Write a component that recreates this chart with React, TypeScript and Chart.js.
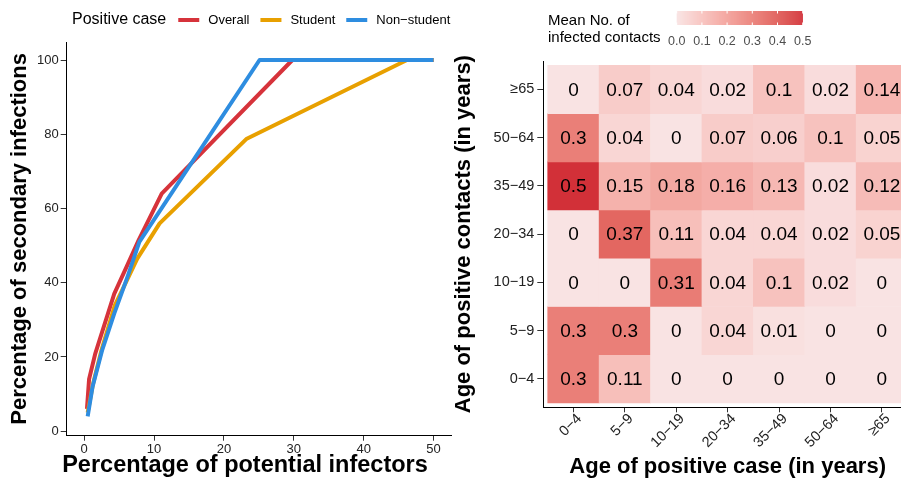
import React, { useEffect, useRef } from 'react';
import { Chart, registerables } from 'chart.js';

Chart.register(...registerables);

const FONT = '"Liberation Sans", Arial, Helvetica, sans-serif';

// ---------- Left panel data ----------
const seriesNames = ['Overall', 'Student', 'Non−student'];
const seriesColors = ['#D6333B', '#E8A000', '#2E8DE0'];
const overallX = [0.4, 0.7, 1.6, 4.3, 6.0, 7.8, 11.1, 29.8, 50];
const overallY = [6, 14, 21, 37, 44, 51.5, 64, 100, 100];
const studentX = [0.5, 1.3, 2.5, 4.4, 6.2, 7.6, 10.8, 23.2, 46.2, 50];
const studentY = [5, 13, 22, 34, 41, 46.5, 56, 78.7, 100, 100];
const nonStudentX = [0.5, 1.2, 2.6, 4.3, 6.2, 7.9, 25.1, 50];
const nonStudentY = [4, 12, 22, 31.7, 41.6, 51, 100, 100];
const xTicksLeft = [0, 10, 20, 30, 40, 50];
const yTicksLeft = [0, 20, 40, 60, 80, 100];
const leftXTitle = 'Percentage of potential infectors';
const leftYTitle = 'Percentage of secondary infections';

// ---------- Right panel data ----------
const caseAges = ['0−4', '5−9', '10−19', '20−34', '35−49', '50−64', '≥65'];
const contactAges = ['0−4', '5−9', '10−19', '20−34', '35−49', '50−64', '≥65']; // bottom to top
// rows: contact age (bottom to top), columns: case age
const row0to4 = [0.3, 0.11, 0, 0, 0, 0, 0];
const row5to9 = [0.3, 0.3, 0, 0.04, 0.01, 0, 0];
const row10to19 = [0, 0, 0.31, 0.04, 0.1, 0.02, 0];
const row20to34 = [0, 0.37, 0.11, 0.04, 0.04, 0.02, 0.05];
const row35to49 = [0.5, 0.15, 0.18, 0.16, 0.13, 0.02, 0.12];
const row50to64 = [0.3, 0.04, 0, 0.07, 0.06, 0.1, 0.05];
const row65plus = [0, 0.07, 0.04, 0.02, 0.1, 0.02, 0.14];
const meanInfected = [row0to4, row5to9, row10to19, row20to34, row35to49, row50to64, row65plus];
const legendTicks = [0, 0.1, 0.2, 0.3, 0.4, 0.5];
const fillLow = [249, 227, 227];
const fillHigh = [210, 48, 56];
const fillMax = 0.5;

// ---------- colour helpers (CIELAB interpolation, like ggplot) ----------
function toLin(c: number) { c /= 255; return c <= 0.04045 ? c / 12.92 : Math.pow((c + 0.055) / 1.055, 2.4); }
function fromLin(c: number) { const v = c <= 0.0031308 ? 12.92 * c : 1.055 * Math.pow(c, 1 / 2.4) - 0.055; return Math.max(0, Math.min(255, Math.round(v * 255))); }
const Xn = 0.95047, Yn = 1.0, Zn = 1.08883;
function fLab(t: number) { return t > 216 / 24389 ? Math.cbrt(t) : (24389 / 27 * t + 16) / 116; }
function fInv(t: number) { return t * t * t > 216 / 24389 ? t * t * t : (116 * t - 16) / (24389 / 27); }
function rgbToLab(rgb: number[]) {
  const r = toLin(rgb[0]), g = toLin(rgb[1]), b = toLin(rgb[2]);
  const x = (0.4124564 * r + 0.3575761 * g + 0.1804375 * b) / Xn;
  const y = (0.2126729 * r + 0.7151522 * g + 0.0721750 * b) / Yn;
  const z = (0.0193339 * r + 0.1191920 * g + 0.9503041 * b) / Zn;
  const fx = fLab(x), fy = fLab(y), fz = fLab(z);
  return [116 * fy - 16, 500 * (fx - fy), 200 * (fy - fz)];
}
function labToRgb(lab: number[]) {
  const fy = (lab[0] + 16) / 116, fx = fy + lab[1] / 500, fz = fy - lab[2] / 200;
  const x = fInv(fx) * Xn, y = fInv(fy) * Yn, z = fInv(fz) * Zn;
  const r = 3.2404542 * x - 1.5371385 * y - 0.4985314 * z;
  const g = -0.9692660 * x + 1.8760108 * y + 0.0415560 * z;
  const b = 0.0556434 * x - 0.2040259 * y + 1.0572252 * z;
  return [fromLin(r), fromLin(g), fromLin(b)];
}
const labLow = rgbToLab(fillLow), labHigh = rgbToLab(fillHigh);
function fillFor(v: number) {
  const t = Math.max(0, Math.min(1, v / fillMax));
  const lab = [0, 1, 2].map((k) => labLow[k] + (labHigh[k] - labLow[k]) * t);
  const c = labToRgb(lab);
  return `rgb(${c[0]},${c[1]},${c[2]})`;
}

// ---------- plugins ----------
const leftLegendPlugin = {
  id: 'leftLegend',
  afterDraw(chart: any) {
    const ctx = chart.ctx;
    ctx.save();
    ctx.textBaseline = 'middle';
    ctx.textAlign = 'left';
    ctx.fillStyle = '#000';
    ctx.font = `16px ${FONT}`;
    const y = 20;
    let x = 72;
    ctx.fillText('Positive case', x, y);
    x += ctx.measureText('Positive case').width + 12;
    ctx.font = `13px ${FONT}`;
    seriesNames.forEach((name, i) => {
      ctx.strokeStyle = seriesColors[i];
      ctx.lineWidth = 4;
      ctx.beginPath();
      ctx.moveTo(x, y);
      ctx.lineTo(x + 21, y);
      ctx.stroke();
      ctx.fillStyle = '#000';
      ctx.fillText(name, x + 30, y);
      x += 30 + ctx.measureText(name).width + 11;
    });
    // x-axis title
    ctx.font = `bold 23.5px ${FONT}`;
    ctx.textAlign = 'center';
    ctx.fillStyle = '#000';
    ctx.fillText(leftXTitle, 245, 466);
    ctx.restore();
  },
};

const cellLabelPlugin = {
  id: 'cellLabels',
  afterDatasetsDraw(chart: any) {
    const ctx = chart.ctx;
    const meta = chart.getDatasetMeta(0);
    const ds = chart.data.datasets[0];
    ctx.save();
    ctx.font = `19px ${FONT}`;
    ctx.fillStyle = '#000';
    ctx.textAlign = 'center';
    ctx.textBaseline = 'middle';
    meta.data.forEach((el: any, i: number) => {
      const p = el.getProps(['x', 'y', 'base'], true);
      ctx.fillText(String(ds.values[i]), p.x, (p.y + p.base) / 2 + 1);
    });
    ctx.restore();
  },
};

const heatLegendPlugin = {
  id: 'heatLegend',
  afterDraw(chart: any) {
    const ctx = chart.ctx;
    ctx.save();
    ctx.fillStyle = '#000';
    ctx.textAlign = 'left';
    ctx.textBaseline = 'middle';
    ctx.font = `15px ${FONT}`;
    ctx.fillText('Mean No. of', 108, 21);
    ctx.fillText('infected contacts', 108, 38);
    const x0 = 236.7, x1 = 362.7, y0 = 11, y1 = 25;
    const steps = Math.round(x1 - x0);
    for (let i = 0; i < steps; i++) {
      ctx.fillStyle = fillFor((i + 0.5) / steps * fillMax);
      ctx.fillRect(x0 + i, y0, 1.2, y1 - y0);
    }
    ctx.strokeStyle = '#fff';
    ctx.lineWidth = 1;
    ctx.font = `12.5px ${FONT}`;
    legendTicks.forEach((v) => {
      const x = x0 + (v / fillMax) * (x1 - x0);
      ctx.beginPath();
      ctx.moveTo(x, y0); ctx.lineTo(x, y0 + 2.5);
      ctx.moveTo(x, y1 - 2.5); ctx.lineTo(x, y1);
      ctx.stroke();
      ctx.fillStyle = '#4D4D4D';
      ctx.textAlign = 'center';
      ctx.fillText(v.toFixed(1), x, 42);
    });
    ctx.restore();
  },
};

function LeftChart() {
  const ref = useRef<HTMLCanvasElement | null>(null);
  useEffect(() => {
    const xs = [overallX, studentX, nonStudentX];
    const ys = [overallY, studentY, nonStudentY];
    const chart = new Chart(ref.current as HTMLCanvasElement, {
      type: 'line',
      data: {
        datasets: seriesNames.map((name, i) => ({
          label: name,
          data: xs[i].map((x, j) => ({ x, y: ys[i][j] })),
          borderColor: seriesColors[i],
          backgroundColor: seriesColors[i],
          borderWidth: 4,
          pointRadius: 0,
          tension: 0,
          fill: false,
          order: 2 - i,
          borderJoinStyle: 'round' as const,
        })),
      },
      options: {
        responsive: false,
        animation: false,
        layout: { padding: { top: 42, right: 9, left: 0, bottom: 0 } },
        plugins: { legend: { display: false }, tooltip: { enabled: false } },
        scales: {
          x: {
            type: 'linear',
            min: -2.5,
            max: 52.5,
            afterBuildTicks: (s: any) => { s.ticks = xTicksLeft.map((v) => ({ value: v })); },
            afterFit: (s: any) => { s.height = 43.3; },
            grid: { drawOnChartArea: false, drawTicks: true, tickLength: 5, tickColor: '#333', tickWidth: 1 },
            border: { display: true, color: '#000', width: 1 },
            ticks: { color: '#222', font: { family: FONT, size: 13 }, padding: 1, maxRotation: 0 },
            title: { display: false },
          },
          y: {
            type: 'linear',
            min: -1.2,
            max: 104.85,
            afterBuildTicks: (s: any) => { s.ticks = yTicksLeft.map((v) => ({ value: v })); },
            afterFit: (s: any) => { s.width = 66.7; },
            grid: { drawOnChartArea: false, drawTicks: true, tickLength: 6, tickColor: '#333', tickWidth: 1 },
            border: { display: true, color: '#000', width: 1 },
            ticks: { color: '#222', font: { family: FONT, size: 13 }, padding: 2 },
            title: {
              display: true, text: leftYTitle, color: '#000',
              font: { family: FONT, size: 22, weight: 'bold' }, padding: { top: 6.8, bottom: 0 },
            },
          },
        },
      },
      plugins: [leftLegendPlugin],
    } as any);
    return () => chart.destroy();
  }, []);
  return <canvas ref={ref} width={460} height={479} style={{ width: 460, height: 479, display: 'block' }} />;
}

function HeatChart() {
  const ref = useRef<HTMLCanvasElement | null>(null);
  useEffect(() => {
    const points: any[] = [];
    const colors: string[] = [];
    const values: number[] = [];
    meanInfected.forEach((row, r) => {
      row.forEach((v, c) => {
        points.push({ x: c, y: [r - 0.5, r + 0.5] });
        colors.push(fillFor(v));
        values.push(v);
      });
    });
    const chart = new Chart(ref.current as HTMLCanvasElement, {
      type: 'bar',
      data: {
        datasets: [{
          label: 'Mean No. of infected contacts',
          data: points,
          values,
          backgroundColor: colors,
          borderWidth: 0,
          barPercentage: 1,
          categoryPercentage: 1,
        } as any],
      },
      options: {
        responsive: false,
        animation: false,
        layout: { padding: { top: 61, right: 0, left: 0, bottom: 0 } },
        plugins: { legend: { display: false }, tooltip: { enabled: false } },
        scales: {
          x: {
            type: 'linear',
            offset: false,
            min: -0.586,
            max: 6.586,
            afterBuildTicks: (s: any) => { s.ticks = caseAges.map((_, i) => ({ value: i })); },
            afterFit: (s: any) => { s.height = 71.7; },
            grid: { drawOnChartArea: false, drawTicks: true, tickLength: 5, tickColor: '#333', tickWidth: 1, offset: false },
            border: { display: true, color: '#000', width: 1 },
            ticks: {
              color: '#222', font: { family: FONT, size: 14.5 }, padding: -2, labelOffset: 6,
              minRotation: 45, maxRotation: 45, autoSkip: false,
              callback: (v: any) => caseAges[Math.round(v)],
            },
            title: {
              display: true, text: 'Age of positive case (in years)', color: '#000',
              font: { family: FONT, size: 22, weight: 'bold' }, padding: { top: 0, bottom: -1 },
            },
          },
          y: {
            type: 'linear',
            offset: false,
            min: -0.59,
            max: 6.59,
            afterBuildTicks: (s: any) => { s.ticks = contactAges.map((_, i) => ({ value: i })); },
            afterFit: (s: any) => { s.width = 103.3; },
            grid: { drawOnChartArea: false, drawTicks: true, tickLength: 6, tickColor: '#333', tickWidth: 1 },
            border: { display: true, color: '#000', width: 1 },
            ticks: {
              color: '#222', font: { family: FONT, size: 14.5 }, padding: 3,
              callback: (v: any) => contactAges[Math.round(v)],
            },
            title: {
              display: true, text: 'Age of positive contacts (in years)', color: '#000',
              font: { family: FONT, size: 22, weight: 'bold' }, padding: { top: 10.8, bottom: 0 },
            },
          },
        },
      },
      plugins: [cellLabelPlugin, heatLegendPlugin],
    } as any);
    return () => chart.destroy();
  }, []);
  return <canvas ref={ref} width={472} height={479} style={{ width: 472, height: 479, display: 'block' }} />;
}

export default function App() {
  return (
    <div style={{ position: 'fixed', left: 0, top: 0, width: 901, height: 479, overflow: 'hidden', background: '#fff' }}>
      <div style={{ position: 'absolute', left: 0, top: 0, width: 460, height: 479 }}>
        <LeftChart />
      </div>
      <div style={{ position: 'absolute', left: 440, top: 0, width: 472, height: 479 }}>
        <HeatChart />
      </div>
    </div>
  );
}
